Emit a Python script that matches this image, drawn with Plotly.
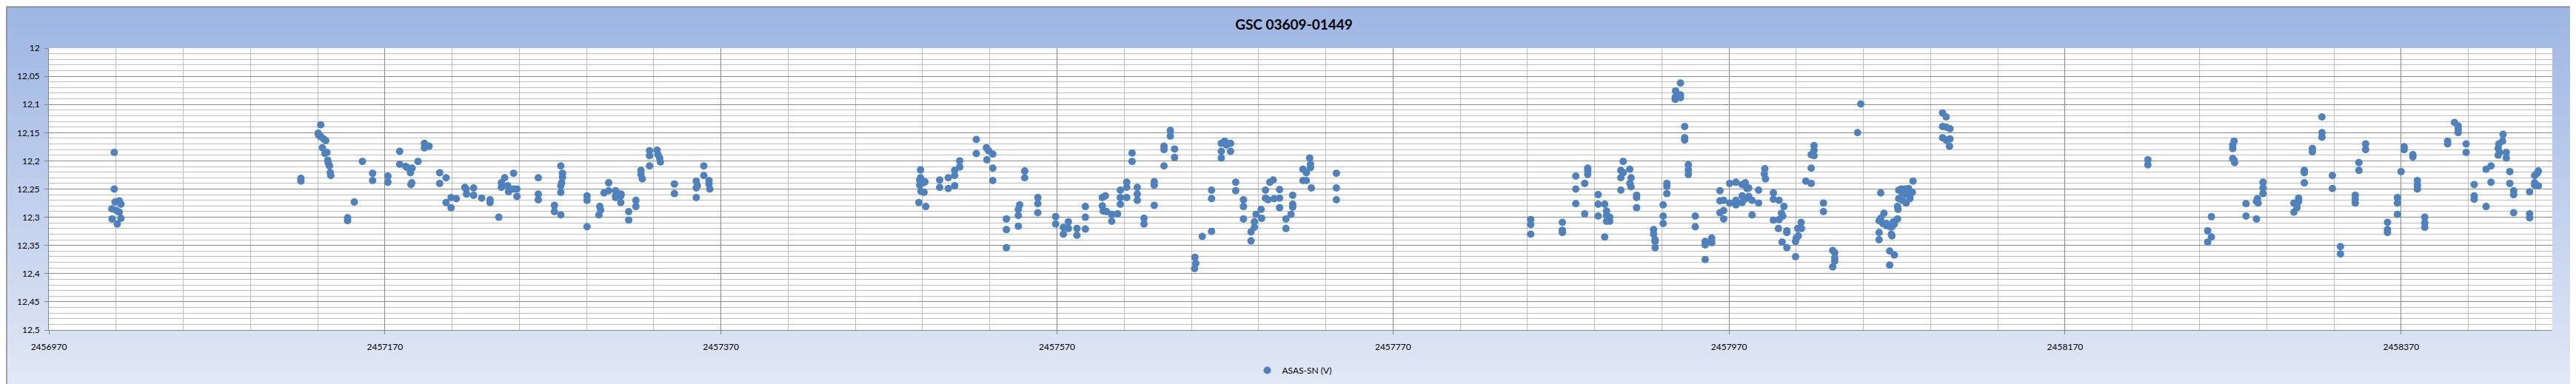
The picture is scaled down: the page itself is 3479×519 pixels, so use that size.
import plotly.graph_objects as go

# ---------------- data ----------------
jd_2014 = [2457008.9, 2457008.9, 2457009.4, 2457011.9, 2457012.9, 2457007.5, 2457010.2, 2457011.9,
           2457007.6, 2457012.9, 2457010.7]
mag_2014 = [12.185, 12.250, 12.273, 12.271, 12.277, 12.285, 12.288, 12.291, 12.303, 12.302, 12.312]

jd_2015 = [2457120, 2457120, 2457131.8, 2457130.3, 2457130.5, 2457131.8, 2457133.5, 2457134.8, 2457132.8,
           2457134.3, 2457135.5, 2457136, 2457136.3, 2457137, 2457137.5, 2457137.8, 2457147.8, 2457147.8,
           2457151.8, 2457156.6, 2457162.7, 2457162.7, 2457171.8, 2457171.8, 2457178.8, 2457178.8,
           2457182.4, 2457183.2, 2457185.2, 2457186.2, 2457185.5, 2457186, 2457189.7, 2457193.5, 2457193.5,
           2457196.3, 2457202.6, 2457202.6, 2457206.4, 2457206.4, 2457209.4, 2457209.4, 2457212.5,
           2457217.6, 2457218.3, 2457218.6, 2457222.8, 2457222.8, 2457227.6, 2457232.6, 2457232.6,
           2457237.8, 2457239.3, 2457241.3, 2457239.3, 2457243.1, 2457243.6, 2457246.6, 2457246.6,
           2457248.6, 2457248.6, 2457261.3, 2457261.3, 2457261.3, 2457270.9, 2457270.9, 2457274.7,
           2457275.7, 2457275.7, 2457275.2, 2457274.7, 2457274.7, 2457274.7, 2457290.3, 2457290.3,
           2457290.3, 2457297.9, 2457298.4, 2457297.4, 2457300.4, 2457303.2, 2457303.2, 2457307.3,
           2457307.3, 2457308.1, 2457310.6, 2457307.3, 2457310.4, 2457310.4, 2457315.1, 2457315.1,
           2457319.4, 2457319.4, 2457322.4, 2457322.4, 2457323.2, 2457327.5, 2457327.5, 2457327.5,
           2457332, 2457332.5, 2457333.5, 2457334, 2457342.3, 2457342.3, 2457355.3, 2457355.3, 2457355.3,
           2457356, 2457359.8, 2457359.8, 2457362.9, 2457362.9, 2457363.4]
mag_2015 = [12.231, 12.236, 12.136, 12.151, 12.154, 12.157, 12.161, 12.164, 12.177, 12.187, 12.185, 12.199,
            12.204, 12.209, 12.221, 12.226, 12.301, 12.306, 12.273, 12.201, 12.222, 12.235, 12.227, 12.238,
            12.183, 12.206, 12.210, 12.212, 12.221, 12.213, 12.242, 12.239, 12.201, 12.169, 12.177, 12.174,
            12.221, 12.240, 12.230, 12.274, 12.265, 12.283, 12.267, 12.247, 12.250, 12.259, 12.248, 12.261,
            12.266, 12.269, 12.274, 12.300, 12.239, 12.230, 12.247, 12.244, 12.255, 12.222, 12.250, 12.250,
            12.263, 12.230, 12.259, 12.269, 12.279, 12.290, 12.209, 12.222, 12.229, 12.239, 12.244, 12.256,
            12.296, 12.262, 12.270, 12.317, 12.281, 12.287, 12.296, 12.257, 12.239, 12.253, 12.253, 12.262,
            12.257, 12.259, 12.265, 12.262, 12.274, 12.290, 12.305, 12.270, 12.281, 12.217, 12.224, 12.232,
            12.182, 12.191, 12.209, 12.181, 12.189, 12.195, 12.202, 12.241, 12.258, 12.236, 12.248, 12.265,
            12.244, 12.209, 12.226, 12.235, 12.241, 12.250]

jd_2016 = [2457487.8, 2457488.8, 2457488.8, 2457488.3, 2457488.3, 2457489.1, 2457490.9, 2457491.4,
           2457490.4, 2457491.9, 2457500.2, 2457500.2, 2457505.3, 2457505.3, 2457509.1, 2457509.1,
           2457509.1, 2457512.1, 2457512.1, 2457522, 2457522, 2457528, 2457529.3, 2457531.8, 2457528.3,
           2457531.8, 2457531.8, 2457539.9, 2457539.9, 2457539.9, 2457547, 2457547, 2457547.8, 2457547,
           2457550.8, 2457550.8, 2457558.6, 2457558.6, 2457558.6, 2457569.2, 2457569.2, 2457573.8,
           2457573.8, 2457576.8, 2457576.8, 2457581.9, 2457581.9, 2457586.9, 2457586.9, 2457586.9,
           2457597, 2457597, 2457598.8, 2457597.5, 2457599.5, 2457602.6, 2457602.6, 2457606.1, 2457607.7,
           2457607.7, 2457607.7, 2457611.5, 2457611.5, 2457611.5, 2457614.7, 2457614.7, 2457617.8,
           2457617.8, 2457617.8, 2457621.8, 2457621.8, 2457627.9, 2457627.9, 2457627.9, 2457633.7,
           2457633.7, 2457633.7, 2457637.5, 2457637.5, 2457640, 2457640, 2457652.1, 2457652.6, 2457651.9,
           2457656.5, 2457662, 2457662, 2457662, 2457667.8, 2457667.8, 2457667.8, 2457669.8, 2457670.8,
           2457673.3, 2457673.3, 2457676.4, 2457676.4, 2457681, 2457681, 2457681, 2457685.5, 2457685.5,
           2457687.5, 2457687.5, 2457688.5, 2457691.5, 2457691.8, 2457694.1, 2457694.1, 2457695.6,
           2457696.7, 2457698.7, 2457699.2, 2457702.5, 2457702.5, 2457702.5, 2457706.3, 2457706.3,
           2457709.3, 2457710.3, 2457710.3, 2457710.3, 2457716.4, 2457716.4, 2457718.4, 2457718.4,
           2457720.4, 2457720.9, 2457720.9, 2457721.4, 2457736.3, 2457736.3, 2457736.3]
mag_2016 = [12.274, 12.216, 12.230, 12.234, 12.243, 12.254, 12.256, 12.237, 12.239, 12.281, 12.234, 12.247,
            12.230, 12.249, 12.217, 12.226, 12.244, 12.200, 12.211, 12.162, 12.187, 12.177, 12.182, 12.188,
            12.198, 12.213, 12.235, 12.303, 12.322, 12.354, 12.316, 12.286, 12.278, 12.297, 12.218, 12.230,
            12.265, 12.276, 12.292, 12.299, 12.312, 12.318, 12.330, 12.308, 12.320, 12.320, 12.332, 12.281,
            12.300, 12.321, 12.265, 12.280, 12.262, 12.289, 12.290, 12.295, 12.307, 12.294, 12.252, 12.265,
            12.277, 12.238, 12.247, 12.265, 12.186, 12.201, 12.247, 12.259, 12.270, 12.302, 12.312, 12.237,
            12.243, 12.279, 12.174, 12.180, 12.209, 12.146, 12.156, 12.179, 12.194, 12.371, 12.382, 12.391,
            12.334, 12.252, 12.267, 12.325, 12.169, 12.183, 12.195, 12.165, 12.172, 12.169, 12.183, 12.238,
            12.253, 12.269, 12.281, 12.303, 12.326, 12.342, 12.308, 12.318, 12.295, 12.286, 12.302, 12.252,
            12.266, 12.269, 12.238, 12.234, 12.267, 12.266, 12.251, 12.283, 12.303, 12.320, 12.295, 12.261,
            12.277, 12.282, 12.215, 12.235, 12.221, 12.235, 12.195, 12.206, 12.212, 12.248, 12.222, 12.248,
            12.269]

jd_2017 = [2457852, 2457852, 2457852, 2457870.8, 2457870.8, 2457870.8, 2457878.8, 2457878.8, 2457878.8,
           2457884.1, 2457884.1, 2457885.9, 2457885.9, 2457885.9, 2457892.1, 2457892.1, 2457892.1,
           2457896, 2457896, 2457897.1, 2457897.1, 2457897.8, 2457899, 2457899, 2457897.1, 2457905.6,
           2457907, 2457905.6, 2457905.6, 2457907, 2457910.9, 2457911.7, 2457911, 2457911.7, 2457915,
           2457915, 2457915, 2457925.1, 2457925.1, 2457926, 2457926, 2457926, 2457930.8, 2457930.8,
           2457930.8, 2457933, 2457933, 2457933, 2457938.2, 2457939, 2457938, 2457938, 2457941.1, 2457941.1,
           2457941.1, 2457943.6, 2457943.6, 2457943.6, 2457945.8, 2457945.8, 2457945.8, 2457949.9,
           2457949.9, 2457955.8, 2457955.8, 2457959.7, 2457959.7, 2457955.8, 2457964.6, 2457964.6,
           2457966.8, 2457964.6, 2457966.8, 2457966.8, 2457970.4, 2457970.4, 2457974.1, 2457974.1,
           2457974.1, 2457977.8, 2457979.7, 2457980.7, 2457981.7, 2457977.8, 2457977.8, 2457980, 2457981.7,
           2457983.7, 2457983.7, 2457987.6, 2457987.6, 2457991.3, 2457991, 2457991.7, 2457996.4, 2457996.4,
           2457999.8, 2458002.7, 2458001.2, 2458002, 2457996.4, 2457999.8, 2457999.4, 2458004.4, 2458004.4,
           2458001.6, 2458004.4, 2458009.6, 2458009.6, 2458010, 2458011.2, 2458010.9, 2458012.9, 2458013.1,
           2458015.7, 2458018.9, 2458018.9, 2458018.9, 2458020.6, 2458020.6, 2458020.6, 2458026.2,
           2458026.2, 2458031.7, 2458032.9, 2458032.9, 2458032.9, 2458031.7, 2458046.5, 2458048.4,
           2458060.3, 2458059.3, 2458060.3, 2458062.2, 2458061.5, 2458063.7, 2458063.7, 2458065.9,
           2458067.8, 2458068.4, 2458067, 2458070.3, 2458059.3, 2458059.3, 2458066.6, 2458067, 2458065.6,
           2458068.4, 2458065.6, 2458070.3, 2458070.6, 2458071, 2458072.5, 2458074.7, 2458076.9, 2458079.5,
           2458071, 2458073.2, 2458075.4, 2458077.6, 2458073.2, 2458075.4, 2458079.1, 2458077.6, 2458097.1,
           2458099.2, 2458097.1, 2458099.2, 2458101.5, 2458097.1, 2458099.2, 2458101.5, 2458101.2]
mag_2017 = [12.304, 12.313, 12.330, 12.309, 12.323, 12.327, 12.227, 12.250, 12.276, 12.240, 12.294, 12.213,
            12.218, 12.224, 12.260, 12.277, 12.298, 12.277, 12.335, 12.289, 12.297, 12.302, 12.300, 12.307,
            12.307, 12.217, 12.221, 12.230, 12.252, 12.201, 12.215, 12.230, 12.240, 12.246, 12.261, 12.265,
            12.283, 12.322, 12.330, 12.340, 12.343, 12.354, 12.278, 12.298, 12.311, 12.240, 12.245, 12.258,
            12.076, 12.083, 12.087, 12.091, 12.062, 12.083, 12.088, 12.139, 12.159, 12.163, 12.207, 12.216,
            12.224, 12.298, 12.317, 12.343, 12.349, 12.337, 12.345, 12.375, 12.253, 12.271, 12.270, 12.292,
            12.288, 12.303, 12.240, 12.275, 12.238, 12.270, 12.278, 12.242, 12.239, 12.249, 12.248, 12.262,
            12.274, 12.267, 12.263, 12.270, 12.296, 12.252, 12.275, 12.214, 12.223, 12.232, 12.257, 12.268,
            12.270, 12.281, 12.293, 12.298, 12.305, 12.304, 12.320, 12.324, 12.327, 12.344, 12.354, 12.370,
            12.343, 12.337, 12.333, 12.320, 12.309, 12.320, 12.236, 12.240, 12.213, 12.189, 12.191, 12.181,
            12.173, 12.275, 12.290, 12.359, 12.363, 12.372, 12.378, 12.388, 12.150, 12.099, 12.257, 12.306,
            12.302, 12.293, 12.311, 12.315, 12.311, 12.317, 12.308, 12.312, 12.317, 12.303, 12.327, 12.340,
            12.330, 12.333, 12.360, 12.367, 12.385, 12.281, 12.286, 12.252, 12.250, 12.250, 12.249, 12.236,
            12.267, 12.270, 12.275, 12.267, 12.257, 12.259, 12.256, 12.263, 12.115, 12.122, 12.139, 12.140,
            12.143, 12.159, 12.163, 12.161, 12.174]

jd_2018 = [2458219.3, 2458219.3, 2458254.9, 2458257.1, 2458257.1, 2458254.9, 2458270.6, 2458269.8,
           2458269.8, 2458269.8, 2458270.6, 2458270.9, 2458277.7, 2458277.7, 2458283.9, 2458287.8,
           2458287.8, 2458287.8, 2458284.5, 2458283.9, 2458284.9, 2458306.2, 2458306.2, 2458308, 2458309,
           2458309, 2458308, 2458312.4, 2458312.4, 2458312.4, 2458317.2, 2458317.2, 2458322.9, 2458322.9,
           2458322.9, 2458329.1, 2458329.1, 2458333.9, 2458333.9, 2458342.7, 2458342.7, 2458342.7,
           2458344.9, 2458344.9, 2458348.9, 2458348.9, 2458361.9, 2458361.9, 2458361.9, 2458367.8,
           2458367.8, 2458367.8, 2458370, 2458371.8, 2458371.8, 2458377, 2458377, 2458379.7, 2458379.7,
           2458379.7, 2458384.1, 2458384.1, 2458384.1, 2458397.7, 2458397.7, 2458401.8, 2458404, 2458404,
           2458404, 2458408.7, 2458408.7, 2458413.5, 2458413.5, 2458413.5, 2458420.6, 2458420.6, 2458423.5,
           2458423.5, 2458427.8, 2458428.2, 2458430.4, 2458430.7, 2458427.8, 2458428.6, 2458432.6,
           2458432.6, 2458434.7, 2458434.7, 2458437, 2458437, 2458437, 2458446.5, 2458446.5, 2458446.5,
           2458449.5, 2458451.7, 2458451, 2458449.5, 2458449.5, 2458451.7]
mag_2018 = [12.198, 12.207, 12.324, 12.299, 12.335, 12.344, 12.165, 12.172, 12.178, 12.196, 12.199, 12.203,
            12.276, 12.298, 12.303, 12.238, 12.248, 12.258, 12.267, 12.272, 12.275, 12.275, 12.291, 12.283,
            12.272, 12.266, 12.277, 12.217, 12.221, 12.239, 12.178, 12.184, 12.122, 12.150, 12.158, 12.226,
            12.249, 12.352, 12.365, 12.261, 12.268, 12.275, 12.203, 12.217, 12.170, 12.180, 12.309, 12.322,
            12.327, 12.265, 12.275, 12.295, 12.219, 12.175, 12.180, 12.189, 12.193, 12.235, 12.243, 12.250,
            12.300, 12.310, 12.318, 12.165, 12.170, 12.132, 12.138, 12.144, 12.150, 12.170, 12.185, 12.242,
            12.262, 12.268, 12.215, 12.281, 12.209, 12.238, 12.178, 12.170, 12.165, 12.153, 12.190, 12.185,
            12.185, 12.195, 12.219, 12.240, 12.253, 12.260, 12.292, 12.255, 12.294, 12.301, 12.226, 12.218,
            12.222, 12.239, 12.243, 12.244]

series_name = "ASAS-SN (V)"
chart_title = "GSC 03609-01449"

x_tick_vals = [2456970, 2457170, 2457370, 2457570, 2457770, 2457970, 2458170, 2458370]
x_tick_text = ["2456970", "2457170", "2457370", "2457570", "2457770", "2457970", "2458170", "2458370"]
x_range = [2456970, 2458460]
x_minor_step = 40

y_tick_vals = [12.0, 12.05, 12.1, 12.15, 12.2, 12.25, 12.3, 12.35, 12.4, 12.45, 12.5]
y_tick_text = ["12", "12,05", "12,1", "12,15", "12,2", "12,25", "12,3", "12,35", "12,4", "12,45", "12,5"]
y_range = [12.5, 12.0]
y_minor_step = 0.01

# minor grid positions (styling of the grid, derived from the axis ranges)
x_minor_vals = [v for v in range(x_range[0], x_range[1] + 1, x_minor_step) if v not in x_tick_vals]
y_minor_vals = [round(12.0 + k * y_minor_step, 2) for k in range(51)]
y_minor_vals = [v for v in y_minor_vals if all(abs(v - t) > 1e-9 for t in y_tick_vals)]

# ---------------- layout geometry ----------------
W, H = 3479, 519
L, R, T, B = 58, 40, 57, 77
PW, PH = W - L - R, H - T - B


def px_x(px):
    return (px - L) / PW


def px_y(py):
    return (H - B - py) / PH


FONT = "Lato, 'Open Sans', 'DejaVu Sans', sans-serif"
MAJOR_GRID = "#8A8A8A"
MINOR_GRID = "#BEBEBE"
AXIS_COLOR = "#868686"

jd_all = jd_2014 + jd_2015 + jd_2016 + jd_2017 + jd_2018
mag_all = mag_2014 + mag_2015 + mag_2016 + mag_2017 + mag_2018

fig = go.Figure()
fig.add_trace(go.Scatter(
    x=jd_all, y=mag_all, mode="markers", name=series_name,
    marker=dict(size=10, color="#4F81BD", line=dict(width=0)),
    showlegend=True,
))

# background gradient (whole chart area), then white plot area
shapes = []
n_bands = 60
top_c = (157, 182, 227)
bot_c = (226, 232, 245)
for i in range(n_bands):
    y0 = i * H / n_bands
    y1 = (i + 1) * H / n_bands + 1
    t = (i + 0.5) / n_bands
    c = tuple(round(top_c[k] + (bot_c[k] - top_c[k]) * t) for k in range(3))
    shapes.append(dict(type="rect", xref="paper", yref="paper",
                       x0=px_x(0), x1=px_x(W), y0=px_y(min(y1, H)), y1=px_y(y0),
                       fillcolor="rgb(%d,%d,%d)" % c, line=dict(width=0), layer="below"))
shapes.append(dict(type="rect", xref="paper", yref="paper", x0=0, x1=1, y0=0, y1=1,
                   fillcolor="white", line=dict(width=0), layer="below"))
shapes.append(dict(type="rect", xref="paper", yref="paper",
                   x0=px_x(1), x1=px_x(W - 1.5), y0=px_y(H - 1.5), y1=px_y(1),
                   fillcolor="rgba(0,0,0,0)", line=dict(color="#8C8C8C", width=1.5), layer="above"))

fig.update_layout(
    width=W, height=H,
    margin=dict(l=L, r=R, t=T, b=B, pad=0),
    paper_bgcolor="rgb(210,220,240)",
    plot_bgcolor="white",
    font=dict(family=FONT, size=12, color="#000000"),
    title=dict(text="<b>" + chart_title + "</b>", x=0.5, xref="container", xanchor="center",
               y=1 - 25 / H, yref="container", yanchor="middle",
               font=dict(family=FONT, size=19, color="#000000")),
    shapes=shapes,
    showlegend=True,
    legend=dict(orientation="h", x=px_x(1740), xanchor="center", y=px_y(497), yanchor="middle",
                bgcolor="rgba(0,0,0,0)", font=dict(family=FONT, size=12, color="#000000"),
                itemwidth=30),
    xaxis=dict(
        range=x_range, tickmode="array", tickvals=x_tick_vals, ticktext=x_tick_text,
        showgrid=True, gridcolor=MAJOR_GRID, gridwidth=1,
        minor=dict(tickmode="array", tickvals=x_minor_vals, showgrid=True,
                   gridcolor=MINOR_GRID, gridwidth=1, ticks=""),
        ticks="outside", ticklen=5, tickcolor=AXIS_COLOR, tickwidth=1,
        showline=True, linecolor=AXIS_COLOR, linewidth=1, zeroline=False,
        ticklabelstandoff=7,
        tickfont=dict(family=FONT, size=12, color="#000000"),
    ),
    yaxis=dict(
        range=y_range, tickmode="array", tickvals=y_tick_vals, ticktext=y_tick_text,
        showgrid=True, gridcolor=MAJOR_GRID, gridwidth=1,
        minor=dict(tickmode="array", tickvals=y_minor_vals, showgrid=True,
                   gridcolor=MINOR_GRID, gridwidth=1, ticks=""),
        ticks="outside", ticklen=5, tickcolor=AXIS_COLOR, tickwidth=1,
        showline=True, linecolor=AXIS_COLOR, linewidth=1, zeroline=False,
        ticklabelstandoff=4,
        tickfont=dict(family=FONT, size=12, color="#000000"),
    ),
)

fig.write_html("out.html")
